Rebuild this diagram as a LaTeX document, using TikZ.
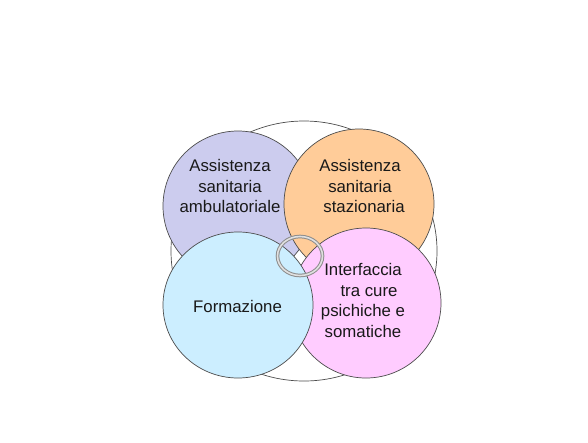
\documentclass[tikz,border=0pt]{standalone}
\usepackage{fontspec}
\setmainfont{Liberation Sans}
\begin{document}
\begin{tikzpicture}[x=1pt,y=-1pt,
  circ/.style={draw=black!70,line width=0.7pt},
  lbl/.style={align=center,font=\fontsize{16.8}{20.5}\selectfont,text=black!90,inner sep=0pt}]
\definecolor{cpurple}{HTML}{CCCCEE}
\definecolor{corange}{HTML}{FFCC99}
\definecolor{cblue}{HTML}{CCEEFF}
\definecolor{cpink}{HTML}{FFCCFF}
\useasboundingbox (0,0) rectangle (588,442);
\fill[white] (0,0) rectangle (588,442);
\draw[circ,fill=white] (304,251) ellipse [x radius=133,y radius=130];
\draw[circ,fill=cpurple] (238,206) circle [radius=75];
\draw[circ,fill=corange] (359,204) circle [radius=75];
\draw[circ,fill=cpink] (366,303) circle [radius=75];
\draw[circ,fill=cblue] (238,305) ellipse [x radius=75,y radius=73];
\draw[draw=black!45,line width=1pt,double=black!12,double distance=1.6pt] (300,256) ellipse [x radius=22.5,y radius=19.5];
\node[lbl] (amb) at (230,186) {Assistenza\\sanitaria\\ambulatoriale};
\node[lbl] (sta) at (360,186) {Assistenza\\sanitaria\\\hspace*{8pt}stazionaria};
\node[lbl] (int) at (363,300.5) {Interfaccia\\\hspace*{12pt}tra cure\\psichiche e\\somatiche};
\node[lbl] (for) at (237.5,306) {Formazione};
\end{tikzpicture}
\end{document}
